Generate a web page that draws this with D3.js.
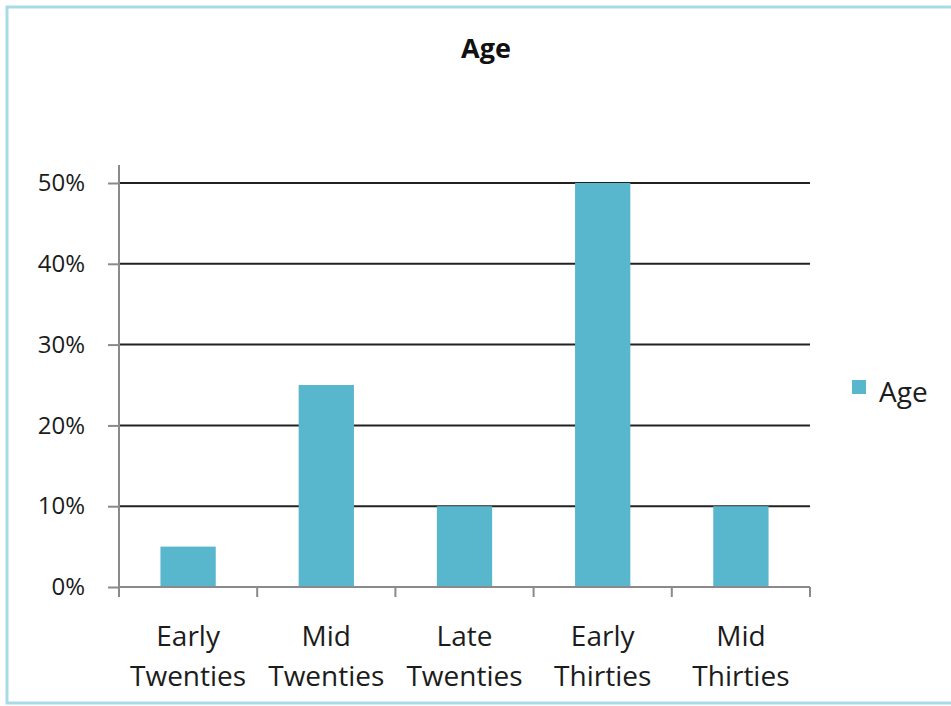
<!DOCTYPE html>
<html>
<head>
<meta charset="utf-8">
<script src="https://cdn.jsdelivr.net/npm/d3@7"></script>
<style>
  html, body { margin: 0; padding: 0; background: #fff; }
  svg { display: block; font-family: "Open Sans", Lato, sans-serif; }
</style>
</head>
<body>
<svg id="chart" width="951" height="706"></svg>
<script>
// Age distribution
const categories = [["Early", "Twenties"], ["Mid", "Twenties"], ["Late", "Twenties"], ["Early", "Thirties"], ["Mid", "Thirties"]];
const values = [0.05, 0.25, 0.10, 0.50, 0.10];
const yTicks = [0, 0.1, 0.2, 0.3, 0.4, 0.5];
const seriesName = "Age";
const chartTitle = "Age";

const svg = d3.select("#chart");
const barColor = "#58b6cd";
const textColor = "#1c1c1c";

// outer frame
svg.append("rect")
  .attr("x", 7).attr("y", 7).attr("width", 960).attr("height", 696)
  .attr("fill", "none").attr("stroke", "#a9dbe7").attr("stroke-width", 3);

const plot = { left: 119, right: 810, top: 183, bottom: 587 };

const x = d3.scaleBand()
  .domain(categories.map((d, i) => i))
  .range([plot.left, plot.right])
  .paddingInner(0.6).paddingOuter(0.3);

const xOuter = d3.scaleBand()
  .domain(categories.map((d, i) => i))
  .range([plot.left, plot.right]);

const y = d3.scaleLinear().domain([0, 0.5]).range([plot.bottom, plot.top]);

// title
svg.append("text")
  .attr("x", 486).attr("y", 58)
  .attr("text-anchor", "middle")
  .attr("font-size", 27).attr("font-weight", "bold")
  .attr("fill", "#111")
  .text(chartTitle);

// gridlines
svg.append("g")
  .selectAll("line")
  .data(yTicks.filter(t => t > 0))
  .join("line")
  .attr("x1", plot.left).attr("x2", plot.right)
  .attr("y1", d => y(d)).attr("y2", d => y(d))
  .attr("stroke", "#222").attr("stroke-width", 2);

// y axis
const yAxis = d3.axisLeft(y)
  .tickValues(yTicks)
  .tickFormat(d3.format(".0%"))
  .tickSize(11)
  .tickPadding(23);

const gy = svg.append("g")
  .attr("transform", `translate(${plot.left},0)`)
  .call(yAxis);
gy.select(".domain").remove();
gy.append("line")
  .attr("x1", 0).attr("x2", 0)
  .attr("y1", 165).attr("y2", plot.bottom + 10)
  .attr("stroke", "#8a8a8a").attr("stroke-width", 2);
gy.selectAll(".tick line").attr("stroke", "#8a8a8a").attr("stroke-width", 2);
gy.selectAll(".tick text")
  .attr("font-size", 24)
  .attr("font-family", "'Open Sans', Lato, sans-serif")
  .attr("fill", textColor);

// bars
svg.append("g")
  .selectAll("rect")
  .data(values)
  .join("rect")
  .attr("x", (d, i) => x(i))
  .attr("width", x.bandwidth())
  .attr("y", d => y(d))
  .attr("height", d => y(0) - y(d))
  .attr("fill", barColor);

// x axis
svg.append("line")
  .attr("x1", plot.left).attr("x2", plot.right)
  .attr("y1", plot.bottom).attr("y2", plot.bottom)
  .attr("stroke", "#8a8a8a").attr("stroke-width", 2);

const boundaries = categories.map((d, i) => xOuter(i)).concat([plot.right]);
svg.append("g")
  .selectAll("line")
  .data(boundaries)
  .join("line")
  .attr("x1", d => d).attr("x2", d => d)
  .attr("y1", plot.bottom).attr("y2", plot.bottom + 10)
  .attr("stroke", "#8a8a8a").attr("stroke-width", 2);

const labels = svg.append("g")
  .selectAll("text")
  .data(categories)
  .join("text")
  .attr("x", (d, i) => xOuter(i) + xOuter.bandwidth() / 2)
  .attr("y", 646)
  .attr("text-anchor", "middle")
  .attr("font-size", 28)
  .attr("fill", textColor);
labels.selectAll("tspan")
  .data(d => d)
  .join("tspan")
  .attr("x", function() { return d3.select(this.parentNode).attr("x"); })
  .attr("dy", (d, i) => i === 0 ? 0 : 40)
  .text(d => d);

// legend
svg.append("rect")
  .attr("x", 852).attr("y", 380).attr("width", 14).attr("height", 14)
  .attr("fill", barColor);
svg.append("text")
  .attr("x", 879).attr("y", 402)
  .attr("font-size", 28)
  .attr("fill", textColor)
  .text(seriesName);
</script>
</body>
</html>
